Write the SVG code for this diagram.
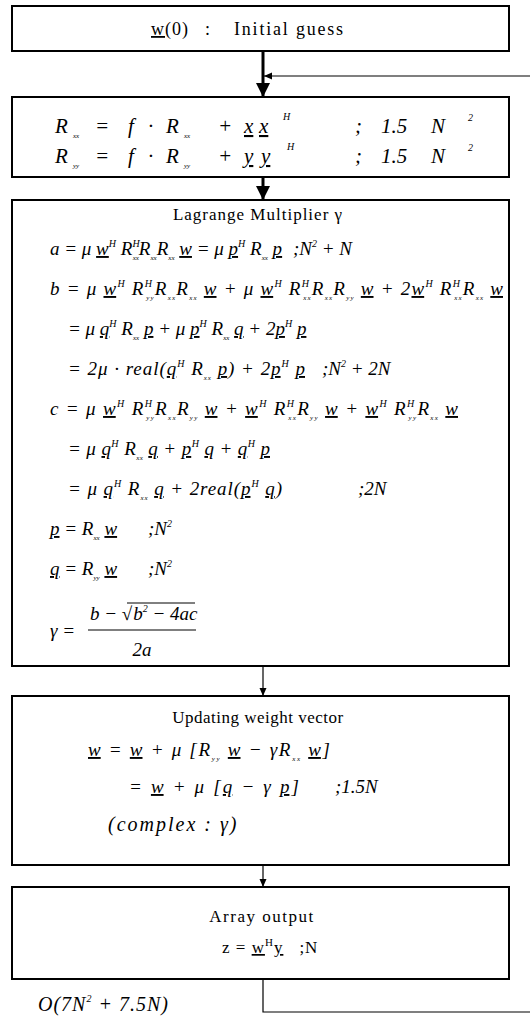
<svg xmlns="http://www.w3.org/2000/svg" width="530" height="1017" viewBox="0 0 530 1017">
<style>
.box{fill:#fff;stroke:#000;stroke-width:2}
.t{font-family:"Liberation Serif",serif;font-size:17px;letter-spacing:1px;fill:#000}
.m{font-family:"Liberation Serif",serif;font-style:italic;font-size:19px;fill:#000}
.b2{font-family:"Liberation Serif",serif;font-style:italic;font-size:21px;fill:#000}
.u{text-decoration:underline}
.sp{font-size:10px}
.sb{font-size:7px}
.thin{fill:none;stroke:#000;stroke-width:1.2}
.thick{fill:none;stroke:#000;stroke-width:3}
</style>
<defs>
<marker id="big" markerUnits="userSpaceOnUse" markerWidth="16" markerHeight="16" refX="14" refY="7" orient="auto"><path d="M0,0 L14,7 L0,14 Z" fill="#000"/></marker>
<marker id="small" markerUnits="userSpaceOnUse" markerWidth="10" markerHeight="8" refX="8" refY="3.5" orient="auto"><path d="M0,0 L8,3.5 L0,7 Z" fill="#000"/></marker>
</defs>
<g id="connectors">
<line class="thick" x1="263" y1="51" x2="263" y2="97" marker-end="url(#big)"/>
<line class="thin" x1="530" y1="76" x2="264" y2="76" marker-end="url(#small)"/>
<line class="thick" x1="263" y1="177" x2="263" y2="200" marker-end="url(#big)"/>
<line class="thin" x1="263" y1="666" x2="263" y2="696" marker-end="url(#small)"/>
<line class="thin" x1="263" y1="865" x2="263" y2="887" marker-end="url(#small)"/>
<polyline class="thin" points="263,979 263,1012 530,1012"/>
</g>
<g id="node-init">
<rect class="box" x="12" y="6" width="497" height="45"/>
<text class="t" x="151" y="35" style="font-size:18px"><tspan class="u">w</tspan>(0)<tspan x="205">:</tspan><tspan x="234" style="letter-spacing:1.8px">Initial guess</tspan></text>
</g>
<g id="node-corr">
<rect class="box" x="12" y="97" width="497" height="80"/>
<text class="b2" y="133"><tspan x="55">R</tspan><tspan class="sb" x="73" dy="5">xx</tspan><tspan x="95" dy="-5">=</tspan><tspan x="128">f</tspan><tspan x="148">·</tspan><tspan x="166">R</tspan><tspan class="sb" x="184" dy="5">xx</tspan><tspan x="218" dy="-5">+</tspan><tspan class="u" x="244">x</tspan><tspan class="u" x="259">x</tspan><tspan class="sp" x="283" dy="-13">H</tspan><tspan x="355" dy="13">;</tspan><tspan x="381">1.5</tspan><tspan x="431">N</tspan><tspan class="sp" x="468" dy="-12">2</tspan></text>
<text class="b2" y="163"><tspan x="55">R</tspan><tspan class="sb" x="73" dy="5">yy</tspan><tspan x="95" dy="-5">=</tspan><tspan x="128">f</tspan><tspan x="148">·</tspan><tspan x="166">R</tspan><tspan class="sb" x="184" dy="5">yy</tspan><tspan x="218" dy="-5">+</tspan><tspan class="u" x="244">y</tspan><tspan class="u" x="261">y</tspan><tspan class="sp" x="287" dy="-13">H</tspan><tspan x="355" dy="13">;</tspan><tspan x="381">1.5</tspan><tspan x="431">N</tspan><tspan class="sp" x="468" dy="-12">2</tspan></text>
</g>
<g id="node-lagrange">
<rect class="box" x="12" y="200" width="497" height="466"/>
<text class="t" x="258" y="220" text-anchor="middle">Lagrange Multiplier γ</text>
<text class="m" x="50" y="255">a = μ <tspan class="u">w</tspan><tspan class="sp" dy="-8">H</tspan><tspan dy="8"> R</tspan><tspan class="sp" dy="-8">H</tspan><tspan class="sb" dx="-7" dy="13">xx</tspan><tspan dy="-5">R</tspan><tspan class="sb" dy="5">xx</tspan><tspan dy="-5">R</tspan><tspan class="sb" dy="5">xx</tspan><tspan dy="-5"> </tspan><tspan class="u">w</tspan> = μ <tspan class="u">p</tspan><tspan class="sp" dy="-8">H</tspan><tspan dy="8"> R</tspan><tspan class="sb" dy="5">xx</tspan><tspan dy="-5"> </tspan><tspan class="u">p</tspan></text>
<text class="m" x="293" y="255">;N<tspan class="sp" dy="-8">2</tspan><tspan dy="8"> + N</tspan></text>
<text class="m" x="50" y="295" textLength="453" lengthAdjust="spacing">b = μ <tspan class="u">w</tspan><tspan class="sp" dy="-8">H</tspan><tspan dy="8"> R</tspan><tspan class="sp" dy="-8">H</tspan><tspan class="sb" dx="-7" dy="13">yy</tspan><tspan dy="-5">R</tspan><tspan class="sb" dy="5">xx</tspan><tspan dy="-5">R</tspan><tspan class="sb" dy="5">xx</tspan><tspan dy="-5"> </tspan><tspan class="u">w</tspan> + μ <tspan class="u">w</tspan><tspan class="sp" dy="-8">H</tspan><tspan dy="8"> R</tspan><tspan class="sp" dy="-8">H</tspan><tspan class="sb" dx="-7" dy="13">xx</tspan><tspan dy="-5">R</tspan><tspan class="sb" dy="5">xx</tspan><tspan dy="-5">R</tspan><tspan class="sb" dy="5">yy</tspan><tspan dy="-5"> </tspan><tspan class="u">w</tspan> + 2<tspan class="u">w</tspan><tspan class="sp" dy="-8">H</tspan><tspan dy="8"> R</tspan><tspan class="sp" dy="-8">H</tspan><tspan class="sb" dx="-7" dy="13">xx</tspan><tspan dy="-5">R</tspan><tspan class="sb" dy="5">xx</tspan><tspan dy="-5"> </tspan><tspan class="u">w</tspan></text>
<text class="m" x="68" y="335">= μ <tspan class="u">q</tspan><tspan class="sp" dy="-8">H</tspan><tspan dy="8"> R</tspan><tspan class="sb" dy="5">xx</tspan><tspan dy="-5"> </tspan><tspan class="u">p</tspan> + μ <tspan class="u">p</tspan><tspan class="sp" dy="-8">H</tspan><tspan dy="8"> R</tspan><tspan class="sb" dy="5">xx</tspan><tspan dy="-5"> </tspan><tspan class="u">q</tspan> + 2<tspan class="u">p</tspan><tspan class="sp" dy="-8">H</tspan><tspan dy="8"> </tspan><tspan class="u">p</tspan></text>
<text class="m" x="68" y="375" textLength="237" lengthAdjust="spacing">= 2μ · real(<tspan class="u">q</tspan><tspan class="sp" dy="-8">H</tspan><tspan dy="8"> R</tspan><tspan class="sb" dy="5">xx</tspan><tspan dy="-5"> </tspan><tspan class="u">p</tspan>) + 2<tspan class="u">p</tspan><tspan class="sp" dy="-8">H</tspan><tspan dy="8"> </tspan><tspan class="u">p</tspan></text>
<text class="m" x="322" y="375">;N<tspan class="sp" dy="-8">2</tspan><tspan dy="8"> + 2N</tspan></text>
<text class="m" x="50" y="415" textLength="408" lengthAdjust="spacing">c = μ <tspan class="u">w</tspan><tspan class="sp" dy="-8">H</tspan><tspan dy="8"> R</tspan><tspan class="sp" dy="-8">H</tspan><tspan class="sb" dx="-7" dy="13">yy</tspan><tspan dy="-5">R</tspan><tspan class="sb" dy="5">xx</tspan><tspan dy="-5">R</tspan><tspan class="sb" dy="5">yy</tspan><tspan dy="-5"> </tspan><tspan class="u">w</tspan> + <tspan class="u">w</tspan><tspan class="sp" dy="-8">H</tspan><tspan dy="8"> R</tspan><tspan class="sp" dy="-8">H</tspan><tspan class="sb" dx="-7" dy="13">xx</tspan><tspan dy="-5">R</tspan><tspan class="sb" dy="5">yy</tspan><tspan dy="-5"> </tspan><tspan class="u">w</tspan> + <tspan class="u">w</tspan><tspan class="sp" dy="-8">H</tspan><tspan dy="8"> R</tspan><tspan class="sp" dy="-8">H</tspan><tspan class="sb" dx="-7" dy="13">yy</tspan><tspan dy="-5">R</tspan><tspan class="sb" dy="5">xx</tspan><tspan dy="-5"> </tspan><tspan class="u">w</tspan></text>
<text class="m" x="68" y="455" textLength="202" lengthAdjust="spacing">= μ <tspan class="u">q</tspan><tspan class="sp" dy="-8">H</tspan><tspan dy="8"> R</tspan><tspan class="sb" dy="5">xx</tspan><tspan dy="-5"> </tspan><tspan class="u">q</tspan> + <tspan class="u">p</tspan><tspan class="sp" dy="-8">H</tspan><tspan dy="8"> </tspan><tspan class="u">q</tspan> + <tspan class="u">q</tspan><tspan class="sp" dy="-8">H</tspan><tspan dy="8"> </tspan><tspan class="u">p</tspan></text>
<text class="m" x="68" y="495" textLength="214" lengthAdjust="spacing">= μ <tspan class="u">q</tspan><tspan class="sp" dy="-8">H</tspan><tspan dy="8"> R</tspan><tspan class="sb" dy="5">xx</tspan><tspan dy="-5"> </tspan><tspan class="u">q</tspan> + 2real(<tspan class="u">p</tspan><tspan class="sp" dy="-8">H</tspan><tspan dy="8"> </tspan><tspan class="u">q</tspan>)</text>
<text class="m" x="358" y="495">;2N</text>
<text class="m" x="50" y="535"><tspan class="u">p</tspan> = R<tspan class="sb" dy="5">xx</tspan><tspan dy="-5"> </tspan><tspan class="u">w</tspan></text>
<text class="m" x="148" y="535">;N<tspan class="sp" dy="-8">2</tspan></text>
<text class="m" x="50" y="575"><tspan class="u">q</tspan> = R<tspan class="sb" dy="5">yy</tspan><tspan dy="-5"> </tspan><tspan class="u">w</tspan></text>
<text class="m" x="148" y="575">;N<tspan class="sp" dy="-8">2</tspan></text>
<text class="m" x="50" y="637">γ =</text>
<text class="m" x="90" y="620">b − √<tspan dx="1">b</tspan><tspan class="sp" dy="-8">2</tspan><tspan dy="8"> − 4ac</tspan></text>
<line x1="127" y1="603" x2="195" y2="603" stroke="#000" stroke-width="1"/>
<line x1="88" y1="630" x2="196" y2="630" stroke="#000" stroke-width="1.2"/>
<text class="m" x="142" y="656" text-anchor="middle">2a</text>
</g>
<g id="node-update">
<rect class="box" x="12" y="696" width="497" height="169"/>
<text class="t" x="258" y="723" text-anchor="middle" style="letter-spacing:0.5px">Updating weight vector</text>
<text class="m" x="88" y="756" textLength="242" lengthAdjust="spacing"><tspan class="u">w</tspan> = <tspan class="u">w</tspan> + μ [R<tspan class="sb" dy="5">yy</tspan><tspan dy="-5"> </tspan><tspan class="u">w</tspan> − γR<tspan class="sb" dy="5">xx</tspan><tspan dy="-5"> </tspan><tspan class="u">w</tspan>]</text>
<text class="m" x="129" y="793" textLength="170" lengthAdjust="spacing">= <tspan class="u">w</tspan> + μ [<tspan class="u">q</tspan> − γ <tspan class="u">p</tspan>]</text>
<text class="m" x="335" y="793">;1.5N</text>
<text class="m" x="108" y="831" style="font-size:20px;letter-spacing:2px">(complex : γ)</text>
</g>
<g id="node-output">
<rect class="box" x="12" y="887" width="497" height="92"/>
<text class="t" x="262" y="922" text-anchor="middle" style="letter-spacing:1.5px">Array output</text>
<text class="t" x="222" y="953">z = <tspan class="u">w</tspan><tspan style="font-size:11px" dy="-7">H</tspan><tspan class="u" dy="7">y</tspan><tspan dx="16">;N</tspan></text>
</g>
<g id="complexity">
<text class="m" x="38" y="1011" style="font-size:20px;letter-spacing:1px">O(7N<tspan class="sp" dy="-9">2</tspan><tspan dy="9"> + 7.5N)</tspan></text>
</g>
</svg>
